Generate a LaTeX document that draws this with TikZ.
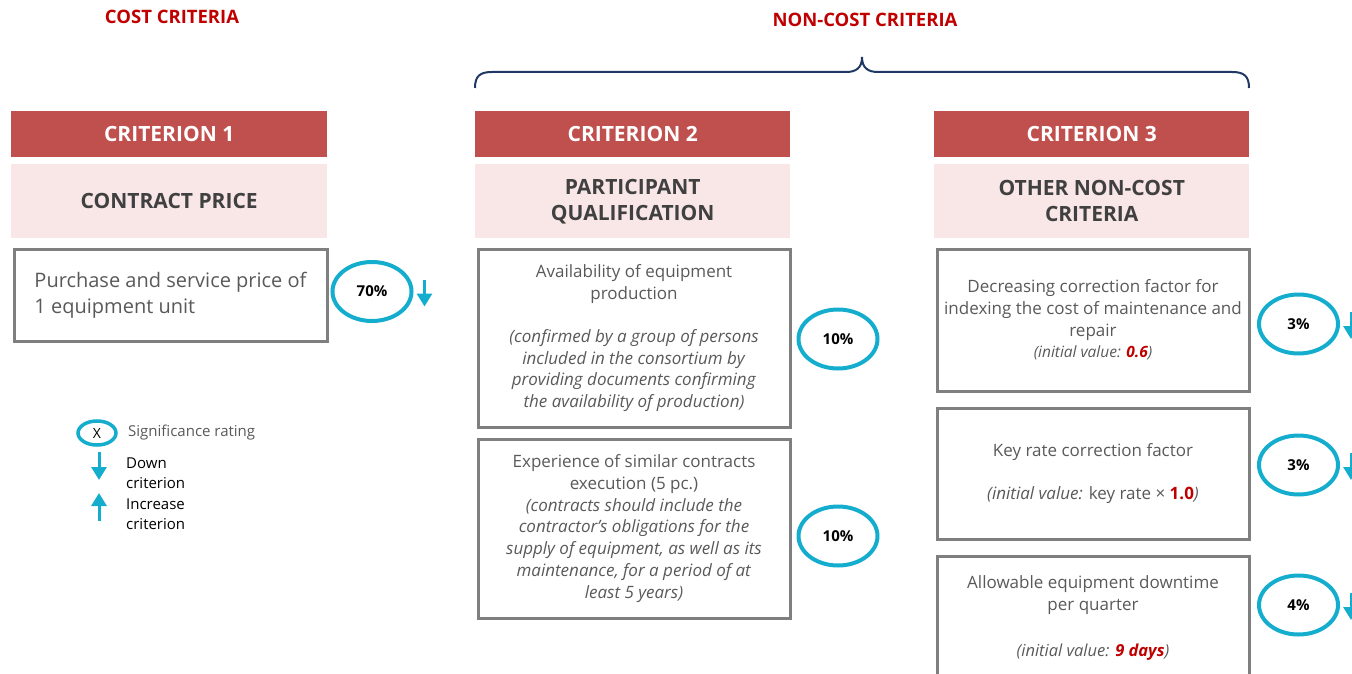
\documentclass[tikz,border=0pt]{standalone}
\usepackage{fontspec}
\setmainfont{Open Sans}
\usetikzlibrary{shapes.geometric,arrows.meta,calc}
\definecolor{critred}{HTML}{C0504D}
\definecolor{critpink}{HTML}{F9E6E6}
\definecolor{titlered}{HTML}{C00000}
\definecolor{ratecyan}{HTML}{14ADCE}
\definecolor{bracenavy}{HTML}{1F3864}
\definecolor{textgray}{HTML}{595959}
\definecolor{boxgray}{HTML}{7F7F7F}
\definecolor{namegray}{HTML}{404040}
\tikzset{
  grouptitle/.style={text=titlered, font=\fontsize{18.5}{22}\selectfont\bfseries},
  crithead/.style={fill=critred, text=white, font=\fontsize{21}{25}\selectfont\bfseries,
    minimum width=316pt, minimum height=46pt, anchor=north west, inner sep=0pt},
  critname/.style={fill=critpink, text=namegray, font=\fontsize{21}{26}\selectfont\bfseries,
    minimum width=316pt, minimum height=74pt, anchor=north west, inner sep=0pt, align=center},
  critbox/.style={draw=boxgray, line width=3pt, text=textgray, anchor=north west,
    minimum width=312pt, inner sep=0pt, align=center, font=\fontsize{17}{21.7}\selectfont},
  rating/.style={ellipse, draw=ratecyan, line width=4pt, minimum width=79pt, minimum height=59pt,
    inner sep=0pt, font=\fontsize{15}{17}\selectfont\bfseries},
  ratearrow/.style={draw=ratecyan, line width=3pt, -{Triangle[width=15pt,length=13pt]}},
  keytext/.style={anchor=west, align=left, inner sep=0pt, font=\fontsize{15}{20}\selectfont}
}
\begin{document}
\begin{tikzpicture}[x=1pt, y=-1pt]
    \useasboundingbox (0,0) rectangle (1352,674);
    \clip (0,0) rectangle (1352,674);
    \node[grouptitle] (cost) at (172,17) {COST CRITERIA};
    \node[grouptitle] (noncost) at (865,20) {NON-COST CRITERIA};
    \draw[bracenavy, line width=2pt] (475,88) .. controls (475,76) and (480,72) .. (492,72) -- (846,72)
        .. controls (856,72) and (862,68) .. (862,57) .. controls (862,68) and (868,72) .. (878,72)
        -- (1232,72) .. controls (1244,72) and (1249,76) .. (1249,88);

    \node[crithead] (h1) at (11,111) {CRITERION 1};
    \node[crithead, minimum width=315pt] (h2) at (475,111) {CRITERION 2};
    \node[crithead, minimum width=315pt] (h3) at (934,111) {CRITERION 3};
    \node[critname] (n1) at (11,164) {CONTRACT PRICE};
    \node[critname, minimum width=315pt] (n2) at (475,164) {PARTICIPANT\\QUALIFICATION};
    \node[critname, minimum width=315pt] (n3) at (934,164) {OTHER NON-COST\\CRITERIA};

    \node[critbox, minimum width=313pt, minimum height=92pt, align=left,
        font=\fontsize{20}{26}\selectfont] (b1) at (12.5,247.5)
        {Purchase and service price of\\1 equipment unit};
    \node[critbox, minimum height=178pt] (b21) at (476.5,247.5)
        {Availability of equipment\\production\\[21.7pt]
        \textit{(confirmed by a group of persons}\\\textit{included in the consortium by}\\
        \textit{providing documents confirming}\\\textit{the availability of production)}};
    \node[critbox, minimum height=179pt] (b22) at (476.5,437.5)
        {Experience of similar contracts\\execution (5 pc.)\\
        \textit{(contracts should include the}\\\textit{contractor’s obligations for the}\\
        \textit{supply of equipment, as well as its}\\\textit{maintenance, for a period of at}\\
        \textit{least 5 years)}};
    \node[critbox, minimum height=142pt] (b31) at (935.5,247.5)
        {Decreasing correction factor for\\indexing the cost of maintenance and\\repair\\
        {\fontsize{15.5}{18}\selectfont\textit{(initial value: \textcolor{titlered}{\textbf{0.6}})}}};
    \node[critbox, minimum height=131pt] (b32) at (935.5,406.5)
        {Key rate correction factor\\[21.7pt]
        \textit{(initial value:} key rate × \textcolor{titlered}{\textbf{1.0}}\textit{)}};
    \node[critbox, minimum height=124pt] (b33) at (935.5,554.5)
        {Allowable equipment downtime\\per quarter\\[24pt]
        {\fontsize{16.5}{19}\selectfont\textit{(initial value: \textcolor{titlered}{\textbf{9 days}})}}};

    \node[rating] (r1) at (372,291.5) {70\%};
    \node[rating] (r21) at (838,339) {10\%};
    \node[rating] (r22) at (838,536) {10\%};
    \node[rating] (r31) at (1298.5,324) {3\%};
    \node[rating] (r32) at (1298.5,465) {3\%};
    \node[rating] (r33) at (1298.5,605) {4\%};
    \foreach \r in {r1,r31,r32,r33}
        \draw[ratearrow] ($(\r.east)+(11,-12)$) -- ($(\r.east)+(11,15)$);

    \node[rating, minimum width=38pt, minimum height=24pt, line width=3.5pt,
        font=\fontsize{14}{16}\selectfont] (key) at (97,433) {X};
    \node[keytext, text=textgray] (keyrate) at (128,433) {Significance rating};
    \coordinate (dtop) at (99,452);
    \coordinate (dbot) at (99,480);
    \coordinate (utop) at (99,493);
    \coordinate (ubot) at (99,521);
    \draw[ratearrow] (dtop) -- (dbot);
    \draw[ratearrow] (ubot) -- (utop);
    \node[keytext] (keydown) at (126,473) {Down\\criterion};
    \node[keytext] (keyup) at (126,514) {Increase\\criterion};
\end{tikzpicture}
\end{document}
